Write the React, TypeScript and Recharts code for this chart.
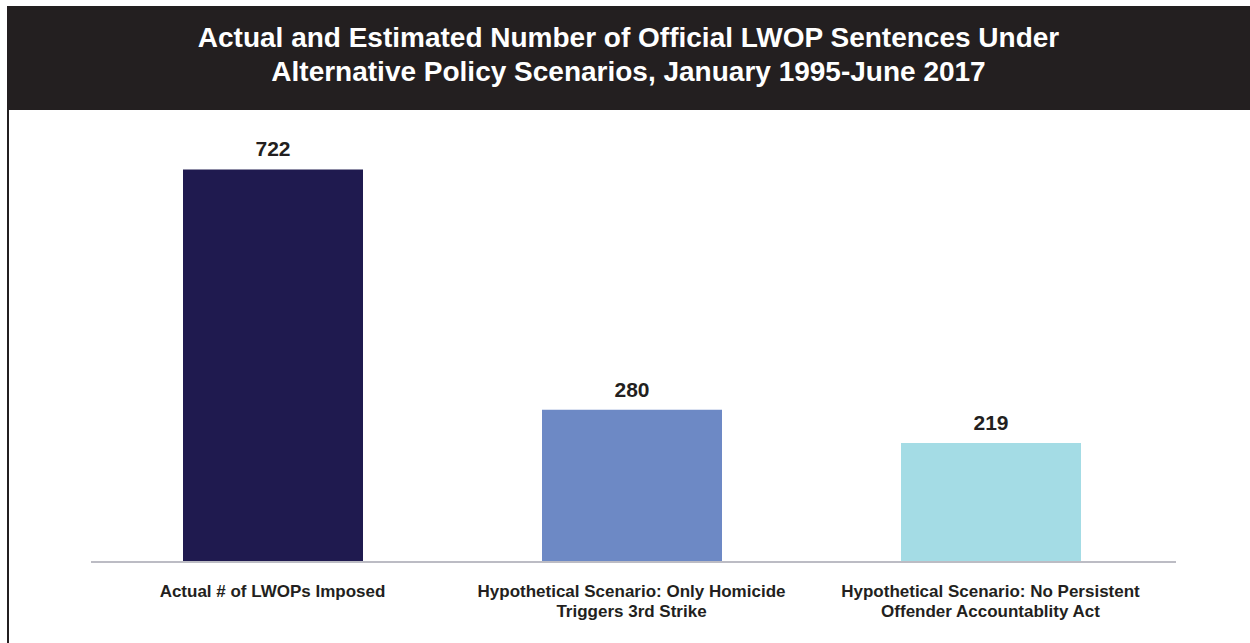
import React from "react";
import { BarChart, Bar, XAxis, YAxis, Cell, LabelList } from "recharts";

const categories = [
  "Actual # of LWOPs Imposed",
  "Hypothetical Scenario: Only Homicide Triggers 3rd Strike",
  "Hypothetical Scenario: No Persistent Offender Accountablity Act",
];
const sentences = [722, 280, 219];

const barColors = ["#1f1a4f", "#6d89c5", "#a4dce5"];

const data = categories.map((name, i) => ({ name, value: sentences[i] }));

const FONT = "'Liberation Sans', Arial, Helvetica, sans-serif";

// split long category names onto two lines
const wrap = (s: string, max = 36) => {
  const words = s.split(" ");
  const lines: string[] = [];
  let cur = "";
  words.forEach((w) => {
    const next = cur ? cur + " " + w : w;
    if (next.length > max && cur) {
      lines.push(cur);
      cur = w;
    } else {
      cur = next;
    }
  });
  if (cur) lines.push(cur);
  return lines;
};

const CategoryTick = (props: any) => {
  const { x, y, payload } = props;
  const lines = wrap(payload.value);
  return (
    <g transform={`translate(${x},${y})`}>
      {lines.map((l, i) => (
        <text
          key={i}
          x={0}
          y={27 + i * 20}
          textAnchor="middle"
          fill="#231f20"
          fontSize={17}
          fontWeight="bold"
          fontFamily={FONT}
        >
          {l}
        </text>
      ))}
    </g>
  );
};

export default function App() {
  return (
    <div
      style={{
        position: "fixed",
        left: 0,
        top: 0,
        width: 1250,
        height: 643,
        background: "#fff",
        fontFamily: FONT,
      }}
    >
      <div
        style={{
          position: "absolute",
          left: 7,
          top: 6,
          width: 1243,
          height: 104,
          boxSizing: "border-box",
          paddingBottom: 6,
          background: "#231f20",
          color: "#fff",
          display: "flex",
          flexDirection: "column",
          justifyContent: "center",
          alignItems: "center",
          fontSize: 28,
          fontWeight: "bold",
          lineHeight: "34px",
          textAlign: "center",
        }}
      >
        <div>Actual and Estimated Number of Official LWOP Sentences Under</div>
        <div>Alternative Policy Scenarios, January 1995-June 2017</div>
      </div>
      <div
        style={{
          position: "absolute",
          left: 7,
          top: 6,
          width: 2,
          height: 637,
          background: "#231f20",
        }}
      />
      <div style={{ position: "absolute", left: 0, top: 0 }}>
        <BarChart
          width={1250}
          height={643}
          data={data}
          margin={{ top: 127, right: 74, bottom: 21, left: 91 }}
        >
          <YAxis hide domain={[0, 800]} />
          <XAxis
            dataKey="name"
            height={60}
            padding={{ left: 2, right: 6 }}
            tickLine={false}
            axisLine={{ stroke: "#bcbcc4", strokeWidth: 2 }}
            tick={<CategoryTick />}
            interval={0}
          />
          <Bar dataKey="value" barSize={180} isAnimationActive={false}>
            {data.map((d, i) => (
              <Cell key={d.name} fill={barColors[i]} />
            ))}
            <LabelList
              dataKey="value"
              position="top"
              offset={13}
              fill="#231f20"
              fontSize={21}
              fontWeight="bold"
              fontFamily={FONT}
            />
          </Bar>
        </BarChart>
      </div>
    </div>
  );
}
